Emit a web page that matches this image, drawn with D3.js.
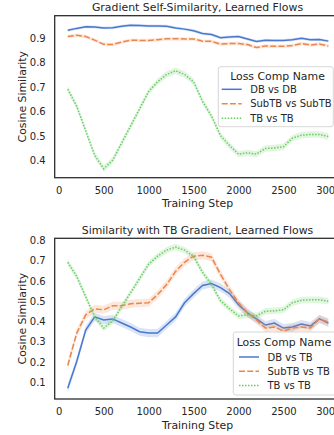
<!DOCTYPE html>
<html><head><meta charset="utf-8">
<script src="https://cdn.jsdelivr.net/npm/d3@7"></script>
<style>
html,body{margin:0;padding:0;background:#fff;overflow:hidden;}
svg{display:block;font-family:"DejaVu Sans",sans-serif;}
</style></head>
<body>
<svg id="c" width="334" height="435"></svg>
<script>
const steps = d3.range(100, 3001, 100);
const xTicks = [0, 500, 1000, 1500, 2000, 2500, 3000];

// Top panel: Gradient Self-Similarity
const topDB = [0.930,0.938,0.945,0.944,0.940,0.941,0.947,0.951,0.950,0.948,0.948,0.947,0.940,0.935,0.928,0.917,0.913,0.900,0.903,0.905,0.895,0.885,0.890,0.889,0.889,0.892,0.898,0.892,0.893,0.886];
const topSub = [0.905,0.910,0.905,0.890,0.873,0.872,0.882,0.890,0.889,0.889,0.892,0.896,0.896,0.895,0.895,0.886,0.885,0.874,0.876,0.876,0.872,0.860,0.866,0.865,0.865,0.868,0.876,0.870,0.874,0.866];
const topTB = [0.690,0.620,0.520,0.420,0.365,0.400,0.470,0.540,0.610,0.680,0.720,0.750,0.765,0.750,0.720,0.640,0.580,0.500,0.460,0.425,0.430,0.425,0.448,0.450,0.455,0.490,0.502,0.505,0.505,0.497];
const topCI = {DB: 0.006, Sub: 0.007, TB: 0.013};

// Bottom panel: Similarity with TB Gradient
const botDB = [0.067,0.200,0.355,0.420,0.405,0.410,0.390,0.370,0.347,0.340,0.340,0.380,0.420,0.490,0.535,0.575,0.585,0.565,0.535,0.480,0.440,0.410,0.380,0.390,0.365,0.370,0.385,0.375,0.410,0.390];
const botSub = [0.180,0.340,0.430,0.460,0.455,0.475,0.475,0.485,0.488,0.490,0.530,0.580,0.645,0.690,0.720,0.725,0.715,0.630,0.555,0.490,0.440,0.405,0.365,0.370,0.350,0.365,0.370,0.365,0.410,0.395];
const botTB = topTB;
const botCI = {DB: 0.02, Sub: 0.02, TB: 0.016};

const colors = {DB: "#4878d0", Sub: "#ee854a", TB: "#6acc64"};
const dashes = {DB: null, Sub: "6,2.25", TB: "1.5,1.5"};
const textColor = "#262626";
const fsTick = 10, fsLabel = 10.9, fsLegend = 10, fsLegendTitle = 10.9;

const svg = d3.select("#c");
const xLeft = 54.7, xRight = 341.4;

function panel(cfg) {
  const x = d3.scaleLinear().domain([-45, 3145]).range([xLeft, xRight]);
  const y = d3.scaleLinear().domain(cfg.yDomain).range([cfg.bottom, cfg.top]);
  const g = svg.append("g");

  cfg.series.forEach(s => {
    const pts = steps.map((st, i) => ({s: st, v: s.values[i]}));
    const area = d3.area().x(d => x(d.s)).y0(d => y(d.v - s.ci)).y1(d => y(d.v + s.ci));
    g.append("path").attr("d", area(pts)).attr("fill", colors[s.key]).attr("fill-opacity", 0.2);
    const line = d3.line().x(d => x(d.s)).y(d => y(d.v));
    g.append("path").attr("d", line(pts)).attr("fill", "none")
      .attr("stroke", colors[s.key]).attr("stroke-width", 1.5)
      .attr("stroke-dasharray", dashes[s.key]);
  });

  // spines
  g.append("rect").attr("x", xLeft).attr("y", cfg.top).attr("width", xRight - xLeft).attr("height", cfg.bottom - cfg.top)
    .attr("fill", "none").attr("stroke", textColor).attr("stroke-width", 1.25);

  // x axis
  const xa = d3.axisBottom(x).tickValues(xTicks).tickSize(0).tickPadding(0).tickFormat(d3.format("d"));
  const xg = g.append("g").attr("transform", `translate(0,${cfg.bottom})`).call(xa);
  xg.select(".domain").remove();
  xg.selectAll("text").attr("fill", textColor).attr("font-size", fsTick).attr("dy", null).attr("y", 16)
    .attr("font-family", "DejaVu Sans");

  // y axis
  const ya = d3.axisLeft(y).tickValues(cfg.yTicks).tickSize(0).tickPadding(0).tickFormat(d3.format(".1f"));
  const yg = g.append("g").attr("transform", `translate(${xLeft - 9},0)`).call(ya);
  yg.select(".domain").remove();
  yg.selectAll("text").attr("fill", textColor).attr("font-size", fsTick).attr("dy", "0.36em").attr("x", 0)
    .attr("font-family", "DejaVu Sans");

  // labels
  g.append("text").attr("x", 197.5).attr("y", cfg.bottom + 29.5).attr("text-anchor", "middle")
    .attr("font-size", fsLabel).attr("fill", textColor).text("Training Step");
  g.append("text").attr("transform", `translate(25.8,${(cfg.top + cfg.bottom) / 2}) rotate(-90)`)
    .attr("text-anchor", "middle").attr("font-size", fsLabel).attr("fill", textColor).text("Cosine Similarity");
  g.append("text").attr("x", 197.5).attr("y", cfg.top - 4.5).attr("text-anchor", "middle")
    .attr("font-size", fsLabel).attr("fill", textColor).text(cfg.title);

  // legend
  const L = cfg.legend;
  const lg = g.append("g");
  lg.append("rect").attr("x", L.x).attr("y", L.y).attr("width", L.w).attr("height", L.h)
    .attr("rx", 2.5).attr("fill", "#fff").attr("fill-opacity", 0.8).attr("stroke", "#cccccc").attr("stroke-width", 0.8);
  lg.append("text").attr("x", L.titleX).attr("y", L.y + 13.5).attr("text-anchor", "middle")
    .attr("font-size", fsLegendTitle).attr("fill", textColor).text("Loss Comp Name");
  cfg.series.forEach((s, i) => {
    const cy = L.y + L.row0 + i * L.rowH;
    lg.append("line").attr("x1", L.hx).attr("x2", L.hx + 20).attr("y1", cy).attr("y2", cy)
      .attr("stroke", colors[s.key]).attr("stroke-width", 1.5).attr("stroke-dasharray", dashes[s.key]);
    lg.append("text").attr("x", L.hx + 28.5).attr("y", cy).attr("dy", "0.36em")
      .attr("font-size", fsLegend).attr("fill", textColor).text(s.label);
  });
}

panel({
  title: "Gradient Self-Similarity, Learned Flows",
  top: 15.7, bottom: 177.7,
  yDomain: [0.3286, 0.9898],
  yTicks: [0.4, 0.5, 0.6, 0.7, 0.8, 0.9],
  series: [
    {key: "DB", label: "DB vs DB", values: topDB, ci: topCI.DB},
    {key: "Sub", label: "SubTB vs SubTB", values: topSub, ci: topCI.Sub},
    {key: "TB", label: "TB vs TB", values: topTB, ci: topCI.TB}
  ],
  legend: {x: 218.3, y: 66.7, w: 115, h: 60, titleX: 277.5, row0: 22.6, rowH: 14.5, hx: 221.7}
});

panel({
  title: "Similarity with TB Gradient, Learned Flows",
  top: 238.3, bottom: 399,
  yDomain: [0.0144, 0.8084],
  yTicks: [0.1, 0.2, 0.3, 0.4, 0.5, 0.6, 0.7, 0.8],
  series: [
    {key: "DB", label: "DB vs TB", values: botDB, ci: botCI.DB},
    {key: "Sub", label: "SubTB vs TB", values: botSub, ci: botCI.Sub},
    {key: "TB", label: "TB vs TB", values: botTB, ci: botCI.TB}
  ],
  legend: {x: 233.3, y: 332, w: 105, h: 63, titleX: 284, row0: 25, rowH: 14.3, hx: 239}
});
</script>
</body></html>
